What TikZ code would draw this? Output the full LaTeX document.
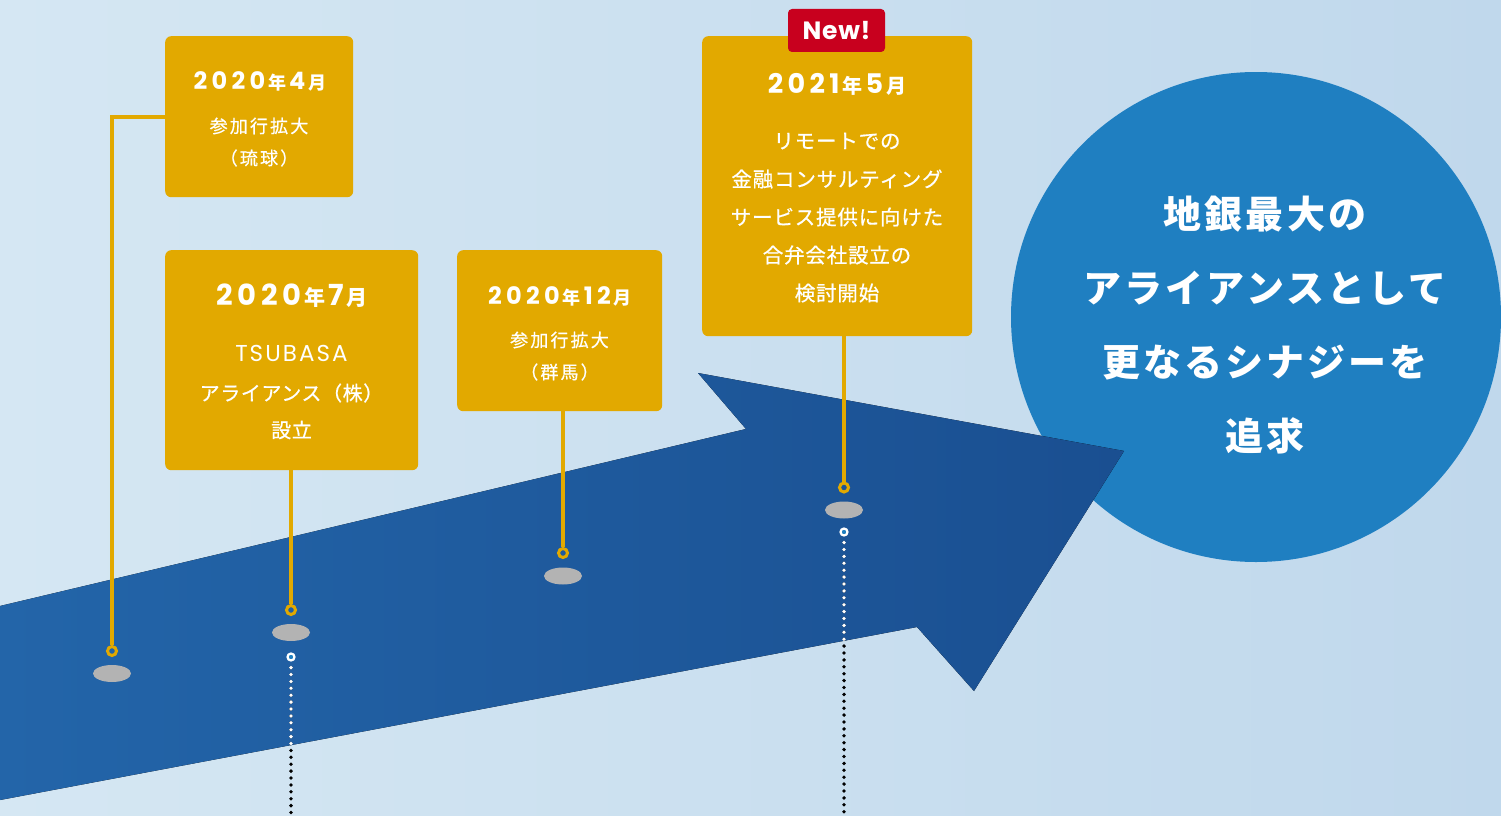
\documentclass[tikz,border=0pt]{standalone}
\usepackage{fontspec}
\setmainfont{Noto Sans CJK JP}
\newfontfamily\pop{Poppins}
\usetikzlibrary{shapes.geometric}
\definecolor{gold}{HTML}{E2A900}
\definecolor{bgL}{HTML}{D5E7F3}
\definecolor{bgR}{HTML}{C0D8EC}
\definecolor{arrL}{HTML}{2365A9}
\definecolor{arrR}{HTML}{1A4F91}
\definecolor{circ}{HTML}{1F7FC1}
\definecolor{newred}{HTML}{C8001E}
\definecolor{shadowgray}{HTML}{B3B3B3}
% #1 digit size, #2 kanji size, #3 tracking, #4 year, #5 month
\newcommand\Ym[5]{{\fontsize{#1}{#1}\selectfont\pop\bfseries\addfontfeature{LetterSpace=#3}#4}\kern3pt{\fontsize{#2}{#2}\selectfont\bfseries 年}\kern3pt{\fontsize{#1}{#1}\selectfont\pop\bfseries\addfontfeature{LetterSpace=#3}#5}\kern3pt{\fontsize{#2}{#2}\selectfont\bfseries 月}}
\newcommand\Bd[3]{{\fontsize{#1}{#1}\selectfont\addfontfeature{LetterSpace=#2,FakeBold=0.7}#3}}
\begin{document}
\begin{tikzpicture}[x=1pt,y=-1pt,
 box/.style={fill=gold, rounded corners=6pt, draw=none, inner sep=0pt, anchor=north west},
 gline/.style={draw=gold, line width=3.8pt},
 gring/.style={circle, draw=gold, line width=3pt, minimum size=9pt, inner sep=0pt},
 wring/.style={circle, draw=white, fill=circ, line width=2.2pt, minimum size=7pt, inner sep=0pt},
 shad/.style={ellipse, fill=shadowgray, minimum width=38pt, minimum height=17pt, inner sep=0pt},
 dots/.style={line width=3.8pt, line cap=round, dash pattern=on 0pt off 6.9pt},
 txt/.style={text=white, inner sep=0pt, anchor=center},
]
\useasboundingbox (0,0) rectangle (1501,816);
\clip (0,0) rectangle (1501,816);
% background
\fill[left color=bgL, right color=bgR] (0,0) rectangle (1501,816);
% goal circle
\node[circle, fill=circ, minimum size=490pt, inner sep=0pt] (goal) at (1256,317) {};
% arrow
\coordinate (A1) at (0,606);
\coordinate (A2) at (746,429);
\coordinate (A3) at (698,373);
\coordinate (A4) at (1124,451);
\coordinate (A5) at (974,691);
\coordinate (A6) at (917,627);
\coordinate (A7) at (0,800);
\fill[left color=arrL, right color=arrR] (A1) -- (A2) -- (A3) -- (A4) -- (A5) -- (A6) -- (A7) -- cycle;
% circle text
\node[txt, align=center, font=\fontsize{38}{74}\selectfont\bfseries\addfontfeature{LetterSpace=8}] (goaltext) at (1265,325)
 {地銀最大の\\アライアンスとして\\更なるシナジーを\\追求};
% boxes
\node[box, minimum width=188pt, minimum height=161pt] (b1) at (165,36) {};
\node[box, minimum width=253pt, minimum height=220pt] (b2) at (165,250) {};
\node[box, minimum width=205pt, minimum height=161pt] (b3) at (457,250) {};
\node[box, minimum width=270pt, minimum height=300pt] (b4) at (702,36) {};
\node[fill=newred, rounded corners=4pt, minimum width=97pt, minimum height=43pt, inner sep=0pt,
 text=white, font=\fontsize{25}{25}\selectfont\pop\bfseries\addfontfeature{LetterSpace=3}] (new) at (836.5,30.5) {New!};
% box texts
\node[txt] (y1) at (260,81) {\Ym{24}{18}{18}{2020}{4}};
\node[txt] (t1a) at (259,126) {\Bd{18}{12}{参加行拡大}};
\node[txt] (t1b) at (259,158) {\Bd{18}{12}{（琉球）}};
\node[txt] (y2) at (292,296) {\Ym{29}{21}{16}{2020}{7}};
\node[txt] (t2a) at (291.5,353) {{\fontsize{23}{23}\selectfont\pop\addfontfeature{LetterSpace=9}TSUBASA}};
\node[txt] (t2b) at (291.5,393) {\Bd{20}{3}{アライアンス（株）}};
\node[txt] (t2c) at (291.5,430) {\Bd{20}{3}{設立}};
\node[txt] (y3) at (560,296) {\Ym{24}{18}{18}{2020}{12}};
\node[txt] (t3a) at (559.5,340) {\Bd{18}{12}{参加行拡大}};
\node[txt] (t3b) at (559.5,372) {\Bd{18}{12}{（群馬）}};
\node[txt] (y4) at (837,84.5) {\Ym{27}{20}{16}{2021}{5}};
\node[txt] (t4a) at (837,141) {\Bd{20.5}{4}{リモートでの}};
\node[txt] (t4b) at (837,179) {\Bd{20.5}{4}{金融コンサルティング}};
\node[txt] (t4c) at (837,217) {\Bd{20.5}{4}{サービス提供に向けた}};
\node[txt] (t4d) at (837,255) {\Bd{20.5}{4}{合弁会社設立の}};
\node[txt] (t4e) at (837,293) {\Bd{20.5}{4}{検討開始}};
% rings and shadows
\node[gring] (r1) at (112,651) {};
\node[shad] (s1) at (112,673.5) {};
\node[gring] (r2) at (291,610) {};
\node[shad] (s2) at (291,632.5) {};
\node[wring] (w2) at (291,657) {};
\node[gring] (r3) at (563,553) {};
\node[shad] (s3) at (563,576) {};
\node[gring] (r4) at (844,487.5) {};
\node[shad] (s4) at (844,510) {};
\node[wring] (w4) at (844,532) {};
% connectors
\coordinate (c1) at (112,117);
\draw[gline] (b1.west |- c1) -- (c1) -- (r1.north);
\draw[gline] (b2.south -| r2.north) -- (r2.north);
\draw[gline] (b3.south -| r3.north) -- (r3.north);
\draw[gline] (b4.south -| r4.north) -- (r4.north);
% dotted continuations
\coordinate (e2) at (291,822);
\coordinate (e4) at (844,822);
\draw[dots, black] ([yshift=-6pt]w2.south) -- (e2);
\draw[dots, black] ([yshift=-6pt]w4.south) -- (e4);
\begin{scope}
\clip (A1) -- (A2) -- (A3) -- (A4) -- (A5) -- (A6) -- (A7) -- cycle;
\draw[dots, white] ([yshift=-6pt]w2.south) -- (e2);
\draw[dots, white] ([yshift=-6pt]w4.south) -- (e4);
\end{scope}
\end{tikzpicture}
\end{document}
